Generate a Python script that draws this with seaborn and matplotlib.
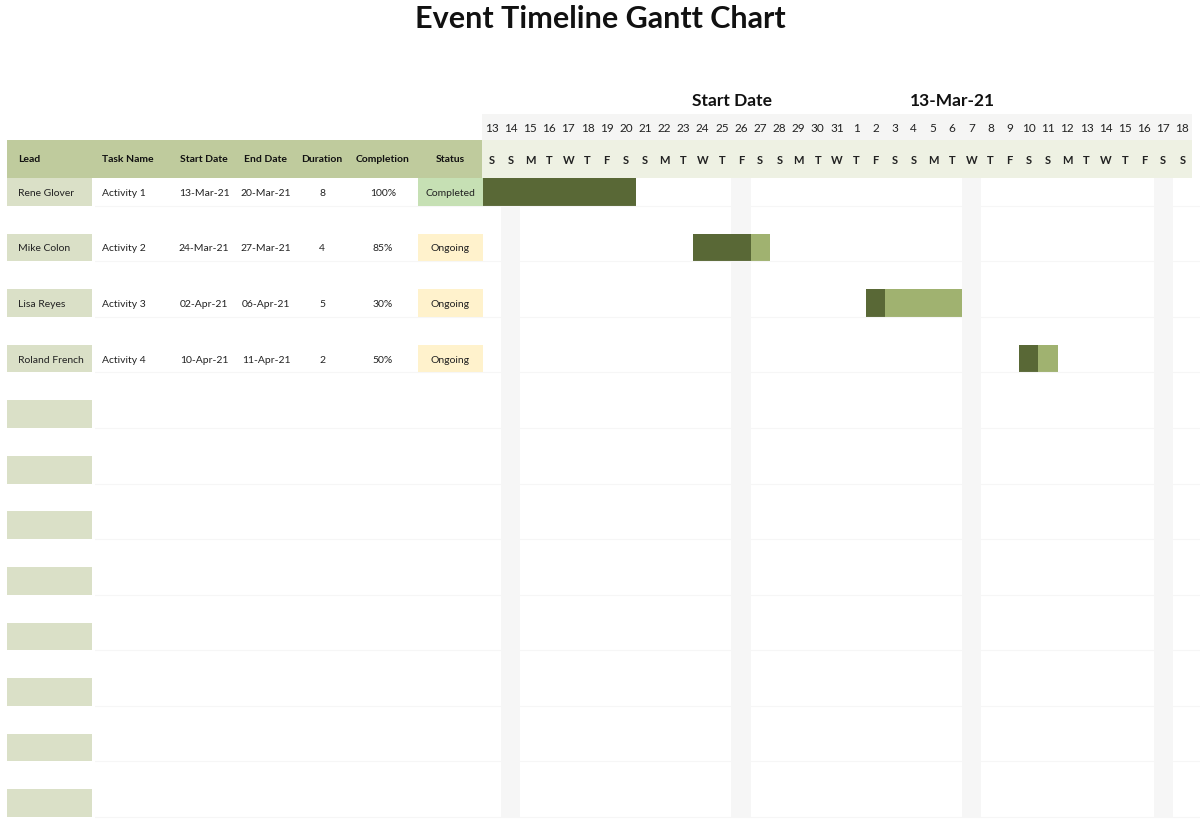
import numpy as np
import pandas as pd
import matplotlib
matplotlib.use("Agg")
import matplotlib.pyplot as plt
import seaborn as sns
from matplotlib.colors import ListedColormap
from matplotlib.patches import Rectangle

# ---------------- data ----------------
leads = ["Rene Glover", "Mike Colon", "Lisa Reyes", "Roland French"]
tasks = ["Activity 1", "Activity 2", "Activity 3", "Activity 4"]
start_dates = ["13-Mar-21", "24-Mar-21", "02-Apr-21", "10-Apr-21"]
end_dates = ["20-Mar-21", "27-Mar-21", "06-Apr-21", "11-Apr-21"]
durations = [8, 4, 5, 2]
completion = [1.00, 0.85, 0.30, 0.50]
statuses = ["Completed", "Ongoing", "Ongoing", "Ongoing"]
headers = ["Lead", "Task Name", "Start Date", "End Date", "Duration", "Completion", "Status"]
timeline_start = "13-Mar-21"
n_days = 37
n_rows = 12
shaded_cols = [1, 13, 25, 35]

# ---------------- style ----------------
sns.set_theme(style="white")
plt.rcParams["font.family"] = ["Lato", "DejaVu Sans"]

W, H = 1200, 825
fig = plt.figure(figsize=(W / 100, H / 100), dpi=100)
fig.patch.set_facecolor("white")

C_HEAD = "#bfcb9d"
C_LEAD = "#dae0c7"
C_DAYROW = "#eef1e3"
C_NUMROW = "#f5f5f4"
C_DARK = "#596836"
C_LIGHT = "#a0b270"
C_STRIPE = "#f6f6f6"
C_LINE = "#f6f6f6"
status_colors = {"Completed": "#c6e0b4", "Ongoing": "#fff2cc"}

g_left, g_right = 482, 1192
g_top, g_bottom = 178, 817
n_half = 2 * n_rows - 1
half = (g_bottom - g_top) / n_half
col_w = (g_right - g_left) / n_days

t0 = pd.to_datetime(timeline_start, format="%d-%b-%y")
days = pd.date_range(t0, periods=n_days, freq="D")

# ---------------- gantt heatmap ----------------
M = np.zeros((n_half, n_days))
M[:, shaded_cols] = 1
for r, (s, d, c) in enumerate(zip(start_dates, durations, completion)):
    si = (pd.to_datetime(s, format="%d-%b-%y") - t0).days
    done = int(d * c)
    M[2 * r, si:si + done] = 2
    M[2 * r, si + done:si + d] = 3

axg = fig.add_axes([g_left / W, (H - g_bottom) / H, (g_right - g_left) / W, (g_bottom - g_top) / H])
cmap = ListedColormap(["white", C_STRIPE, C_DARK, C_LIGHT])
sns.heatmap(M, ax=axg, cmap=cmap, vmin=-0.5, vmax=3.5, cbar=False,
            xticklabels=False, yticklabels=False)
axg.set_zorder(1)

# ---------------- overlay (table, headers, title) ----------------
bg = fig.add_axes([0, 0, 1, 1])
bg.set_xlim(0, W)
bg.set_ylim(H, 0)
bg.axis("off")
bg.set_zorder(2)
bg.patch.set_alpha(0)

bg.text(W / 2, 19, "Event Timeline Gantt Chart", ha="center", va="center",
        fontsize=22, fontweight="bold", color="#111111")
bg.text(732, 101, "Start Date", ha="center", va="center", fontsize=12.5, fontweight="bold", color="#111111")
bg.text(952, 101, "13-Mar-21", ha="center", va="center", fontsize=12.5, fontweight="bold", color="#111111")

# header rows
bg.add_patch(Rectangle((g_left, 114), g_right - g_left, 26, color=C_NUMROW, lw=0))
bg.add_patch(Rectangle((g_left, 140), g_right - g_left, 38, color=C_DAYROW, lw=0))
bg.add_patch(Rectangle((7, 140), g_left - 7, 38, color=C_HEAD, lw=0))

letters = {0: "M", 1: "T", 2: "W", 3: "T", 4: "F", 5: "S", 6: "S"}
for i, d in enumerate(days):
    x = g_left + (i + 0.5) * col_w
    bg.text(x, 129, str(d.day), ha="center", va="center", fontsize=8.5, color="#222222")
    bg.text(x, 160, letters[d.weekday()], ha="center", va="center", fontsize=8,
            fontweight="bold", color="#222222")

col_x = [18, 102, 204, 266, 322, 383, 450]
col_ha = ["left", "left", "center", "center", "center", "center", "center"]
for x, ha, h in zip(col_x, col_ha, headers):
    bg.text(x, 160, h, ha=ha, va="center", fontsize=7.5, fontweight="bold", color="#111111")

for r in range(n_rows):
    top = g_top + 2 * r * half
    bg.add_patch(Rectangle((7, top), 85, half, color=C_LEAD, lw=0))
    bg.plot([95, W], [top + half, top + half], color=C_LINE, lw=0.8, zorder=0.5)

for r, row in enumerate(zip(leads, tasks, start_dates, end_dates, durations, completion, statuses)):
    top = g_top + 2 * r * half
    yc = top + half / 2 + 1.5
    st = row[6]
    bg.add_patch(Rectangle((418, top), 65, half, color=status_colors[st], lw=0))
    vals = [row[0], row[1], row[2], row[3], str(row[4]), f"{row[5]:.0%}", st]
    for x, ha, v in zip(col_x, col_ha, vals):
        bg.text(x, yc, v, ha=ha, va="center", fontsize=7.5, color="#222222")

fig.savefig("out.png", dpi=100, facecolor="white")
